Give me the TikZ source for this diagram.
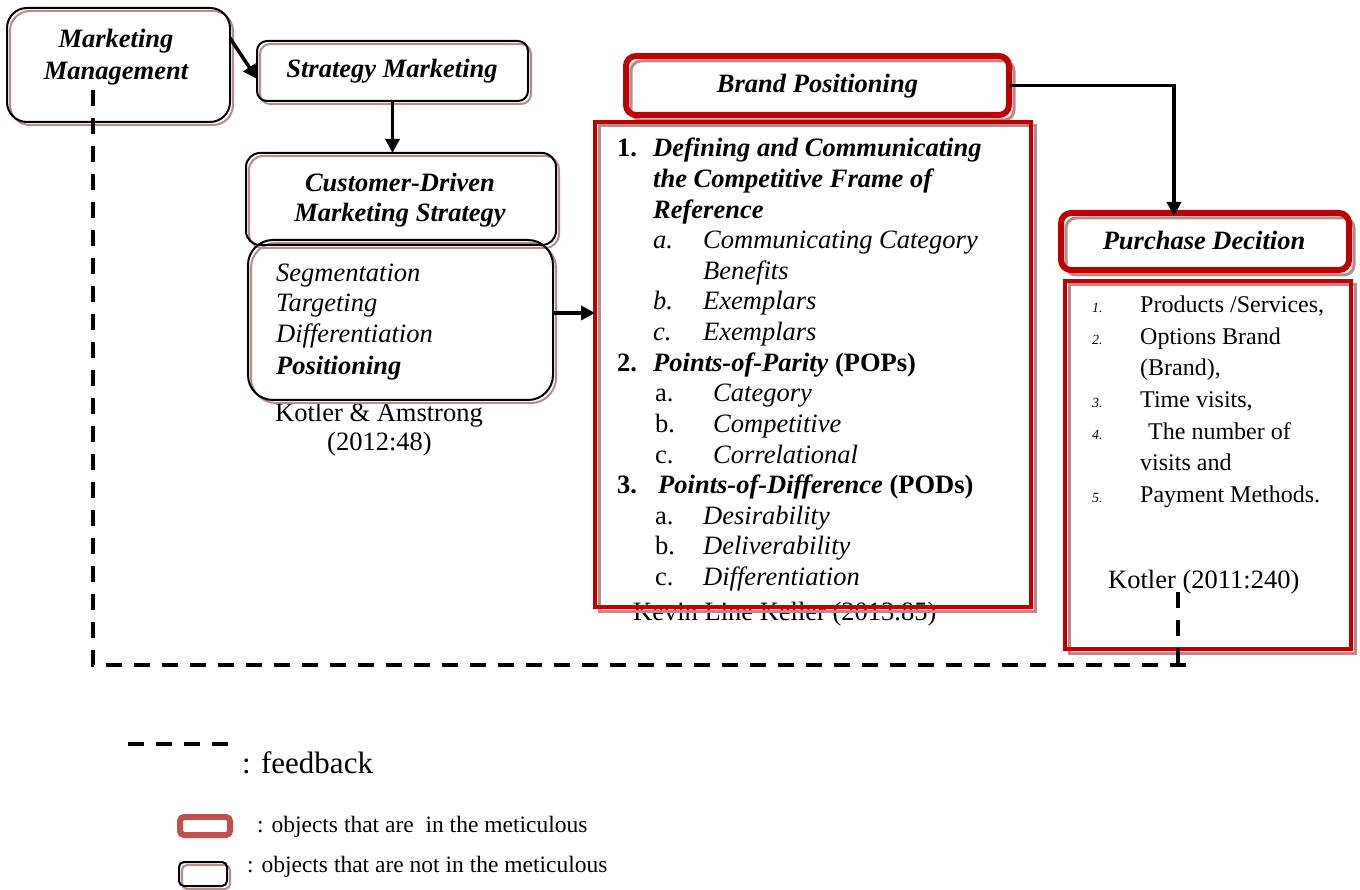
\documentclass[tikz,border=0pt]{standalone}
\usepackage{fontspec}
\setmainfont{Liberation Serif}
\usetikzlibrary{arrows.meta}
\definecolor{myred}{RGB}{192,0,0}
\definecolor{shc}{RGB}{180,140,140}
\definecolor{legred}{RGB}{192,80,77}
\newcommand\boxshape[4]{\draw[#4,rounded corners=#2] ([shift={(#3,#3)}]#1.south west) rectangle ([shift={(#3,#3)}]#1.north east);}
\newcommand\fA{\fontsize{26.5}{30}\selectfont}
\newcommand\fB{\fontsize{24}{30}\selectfont}
\newcommand\fS{\fontsize{14}{16}\selectfont}
\newcommand\fL{\fontsize{23.5}{28}\selectfont}
\newcommand\fF{\fontsize{31}{36}\selectfont}
\begin{document}
\begin{tikzpicture}[x=1pt,y=-1pt,
  hold/.style={inner sep=0pt,outer sep=0pt,draw=none},
  blk/.style={draw=black,line width=2pt},
  blksh/.style={draw=shc,line width=2pt},
  redthick/.style={draw=myred,line width=6pt},
  redthin/.style={draw=myred,line width=3.5pt},
  redsh/.style={draw=shc,line width=3pt},
  lb/.style={inner sep=0pt,anchor=base west,font=\fA},
  lc/.style={inner sep=0pt,anchor=base,font=\fA},
  hd/.style={inner sep=0pt,anchor=base,font=\fA\bfseries\itshape},
  pb/.style={inner sep=0pt,anchor=base west,font=\fB},
  pn/.style={inner sep=0pt,anchor=base west,font=\fS\itshape},
  arr/.style={line width=3.5pt,-{Triangle[length=14pt,width=14pt]}},
  fb/.style={line width=3.5pt,dash pattern=on 16pt off 12pt}
]
\useasboundingbox (0,0) rectangle (1360,890);

% ---------- box holders ----------
\node[hold,minimum width=223pt,minimum height=114pt] (mm) at (118.5,65) {};
\node[hold,minimum width=271pt,minimum height=60pt] (sm) at (392.5,71) {};
\node[hold,minimum width=310pt,minimum height=92pt] (cd) at (401,199) {};
\node[hold,minimum width=305pt,minimum height=160pt] (stp) at (400.5,320) {};
\node[hold,minimum width=383pt,minimum height=59pt] (bp) at (817.5,85.5) {};
\node[hold,minimum width=436pt,minimum height=485pt] (big) at (813,364.5) {};
\node[hold,minimum width=288pt,minimum height=57pt] (pd) at (1205,241.5) {};
\node[hold,minimum width=286pt,minimum height=368pt] (pl) at (1208,465) {};
\node[hold,minimum width=50pt,minimum height=18pt] (lgr) at (205,826) {};
\node[hold,minimum width=48pt,minimum height=24pt] (lgb) at (203,874) {};

% ---------- texts ----------
\node[hd] (mmt1) at (116,48) {Marketing};
\node[hd] (mmt2) at (116,80) {Management};
\node[hd] (smt) at (392,78) {Strategy Marketing};
\node[hd] (cdt1) at (400,192) {Customer-Driven};
\node[hd] (cdt2) at (400,222) {Marketing Strategy};
\node[lb,font=\fA\itshape] (s1) at (276,282) {Segmentation};
\node[lb,font=\fA\itshape] (s2) at (276,312) {Targeting};
\node[lb,font=\fA\itshape] (s3) at (276,343) {Differentiation};
\node[lb,font=\fA\bfseries\itshape] (s4) at (276,375) {Positioning};
\node[lb] (ka1) at (275,421) {Kotler \& Amstrong};
\node[lb] (ka2) at (327,450) {(2012:48)};

\node[hd] (bpt) at (817.5,93) {Brand Positioning};
% list in big box
\node[lb,font=\fA\bfseries] (n1) at (617,157) {1.};
\node[lb,font=\fA\bfseries\itshape] (l0) at (653,157) {Defining and Communicating};
\node[lb,font=\fA\bfseries\itshape] (l1) at (653,187.6) {the Competitive Frame of};
\node[lb,font=\fA\bfseries\itshape] (l2) at (653,218.2) {Reference};
\node[lb,font=\fA\itshape] (m3) at (653,248.8) {a.};
\node[lb,font=\fA\itshape] (l3) at (703,248.8) {Communicating Category};
\node[lb,font=\fA\itshape] (l4) at (703,279.4) {Benefits};
\node[lb,font=\fA\itshape] (m5) at (653,310) {b.};
\node[lb,font=\fA\itshape] (l5) at (703,310) {Exemplars};
\node[lb,font=\fA\itshape] (m6) at (653,340.6) {c.};
\node[lb,font=\fA\itshape] (l6) at (703,340.6) {Exemplars};
\node[lb,font=\fA\bfseries] (n2) at (617,371.2) {2.};
\node[lb,font=\fA\bfseries] (l7) at (653,371.2) {\textit{Points-of-Parity} (POPs)};
\node[lb] (m8) at (655,401.8) {a.};
\node[lb,font=\fA\itshape] (l8) at (713,401.8) {Category};
\node[lb] (m9) at (655,432.4) {b.};
\node[lb,font=\fA\itshape] (l9) at (713,432.4) {Competitive};
\node[lb] (m10) at (655,463) {c.};
\node[lb,font=\fA\itshape] (l10) at (713,463) {Correlational};
\node[lb,font=\fA\bfseries] (n3) at (617,493.6) {3.};
\node[lb,font=\fA\bfseries] (l11) at (658,493.6) {\textit{Points-of-Difference} (PODs)};
\node[lb] (m12) at (655,524.2) {a.};
\node[lb,font=\fA\itshape] (l12) at (703,524.2) {Desirability};
\node[lb] (m13) at (655,554.8) {b.};
\node[lb,font=\fA\itshape] (l13) at (703,554.8) {Deliverability};
\node[lb] (m14) at (655,585.4) {c.};
\node[lb,font=\fA\itshape] (l14) at (703,585.4) {Differentiation};
\node[lb] (kev) at (633,620) {Kevin Line Keller (2013.85)};

\node[hd] (pdt) at (1204,250) {Purchase Decition};
\node[pn] (q1) at (1092,313) {1.};
\node[pb] (p1) at (1140,313) {Products /Services,};
\node[pn] (q2) at (1092,344.5) {2.};
\node[pb] (p2) at (1140,344.5) {Options Brand};
\node[pb] (p2b) at (1140,376) {(Brand),};
\node[pn] (q3) at (1092,407.5) {3.};
\node[pb] (p3) at (1140,407.5) {Time visits,};
\node[pn] (q4) at (1092,439) {4.};
\node[pb] (p4) at (1148,439) {The number of};
\node[pb] (p4b) at (1140,470.5) {visits and};
\node[pn] (q5) at (1092,502) {5.};
\node[pb] (p5) at (1140,502) {Payment Methods.};
\node[lb] (kot) at (1108,588) {Kotler (2011:240)};

% legend texts
\node[inner sep=0pt,anchor=base west,font=\fF] (lg1) at (242,773) {: feedback};
\node[inner sep=0pt,anchor=base west,font=\fL] (lg2) at (257,832) {: objects that are \ in the meticulous};
\node[inner sep=0pt,anchor=base west,font=\fL] (lg3) at (247,872) {: objects that are not in the meticulous};

% ---------- shadows ----------
\boxshape{mm}{20pt}{3}{blksh}
\boxshape{sm}{10pt}{3}{blksh}
\boxshape{cd}{14pt}{3}{blksh}
\boxshape{stp}{25pt}{3}{blksh}
\boxshape{bp}{10pt}{5}{redsh}
\boxshape{big}{0pt}{4}{redsh}
\boxshape{pd}{10pt}{5}{redsh}
\boxshape{pl}{0pt}{4}{redsh}
\boxshape{lgb}{5pt}{3}{blksh}

% ---------- borders ----------
\boxshape{mm}{20pt}{0}{blk}
\boxshape{sm}{10pt}{0}{blk}
\boxshape{cd}{14pt}{0}{blk}
\boxshape{stp}{25pt}{0}{blk}
\boxshape{bp}{10pt}{0}{redthick}
\boxshape{big}{0pt}{0}{redthin}
\boxshape{pd}{10pt}{0}{redthick}
\boxshape{pl}{0pt}{0}{redthin}
\boxshape{lgr}{4pt}{0}{draw=legred,line width=6pt}
\boxshape{lgb}{5pt}{0}{blk}

% ---------- connectors ----------
\draw[arr] ([yshift=27pt]mm.east) -- ([yshift=-8pt]sm.west);
\draw[arr] (sm.south) -- (sm.south |- cd.north);
\draw[arr] ([yshift=7pt]stp.east) -- ([yshift=7pt]stp.east -| big.west);
\draw[arr,shorten >=-3pt] (bp.east) -| ([xshift=-31pt]pd.north);

% ---------- feedback ----------
\coordinate (fbtop) at (93,90);
\coordinate (fbcorner) at (93,665);
\coordinate (fbend) at (1192,665);
\coordinate (fbup) at (1178,592);
\coordinate (fbdown) at (1178,665);
\draw[fb] (fbtop) -- (fbcorner) -- (fbend);
\draw[fb] (fbup) -- (fbdown);
\coordinate (lgs) at (128,744);
\coordinate (lge) at (228,744);
\draw[fb] (lgs) -- (lge);
\end{tikzpicture}
\end{document}
